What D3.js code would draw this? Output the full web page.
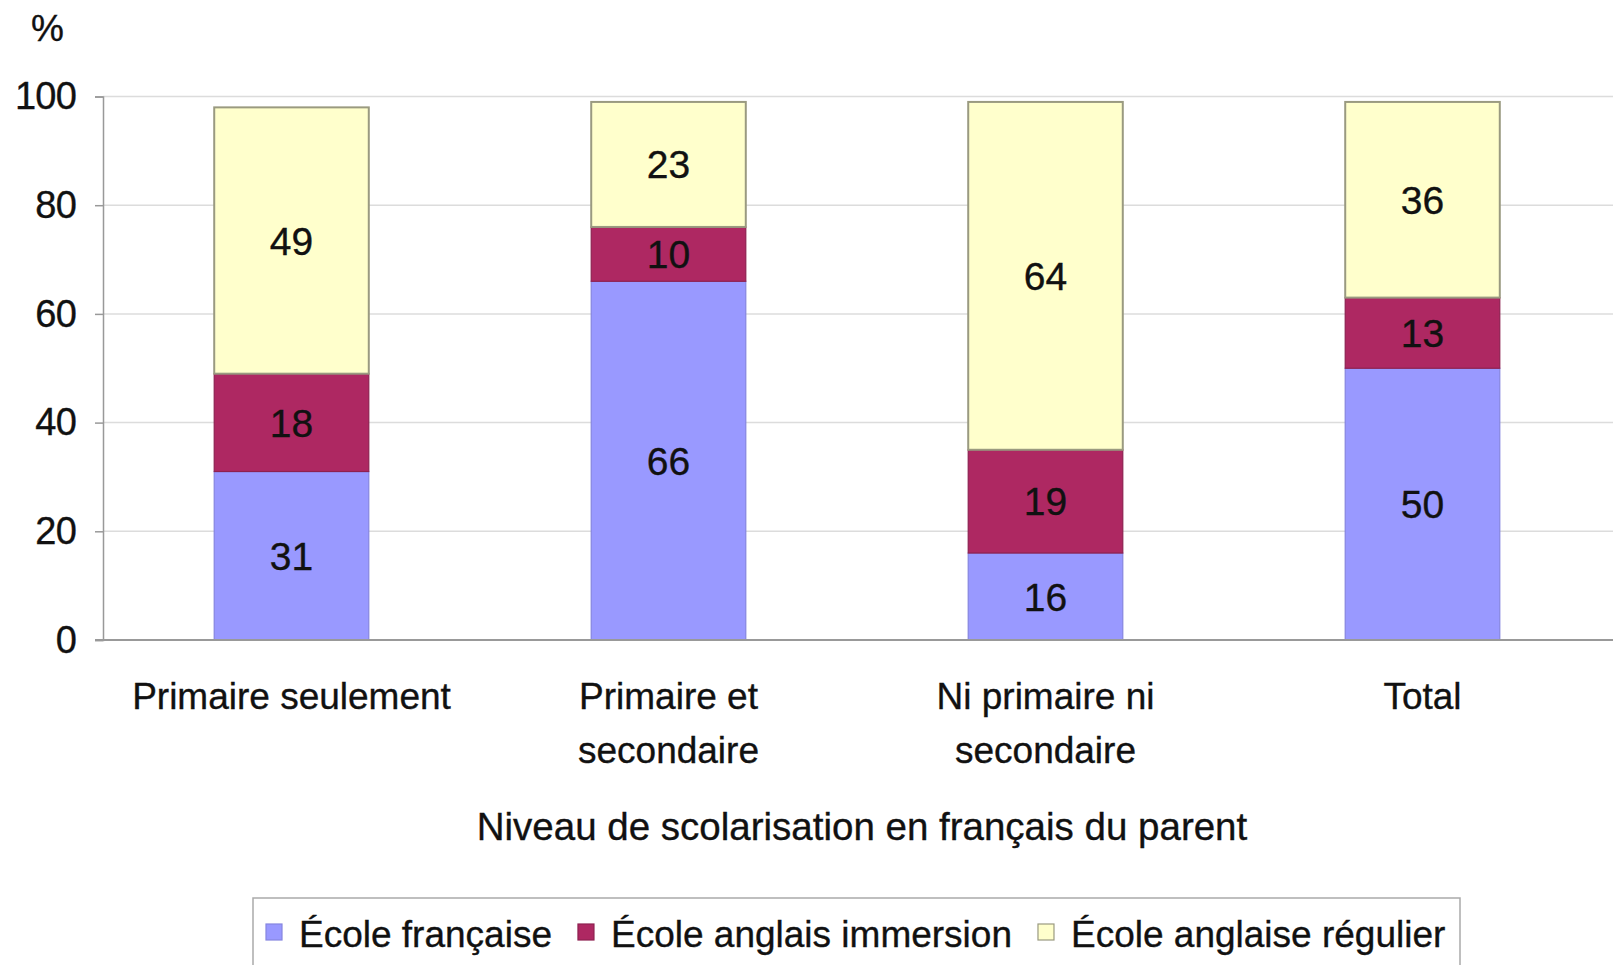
<!DOCTYPE html>
<html>
<head>
<meta charset="utf-8">
<script src="https://cdn.jsdelivr.net/npm/d3@7"></script>
<style>
  html, body { margin: 0; padding: 0; background: #fff; }
  svg { display: block; }
  text { font-family: "Liberation Sans", Arial, Helvetica, sans-serif; fill: #111; stroke: #111; stroke-width: 0.35px; }
</style>
</head>
<body>
<svg id="chart" width="1618" height="965"></svg>
<script>
// ---- data ----
const categories = [["Primaire seulement"], ["Primaire et", "secondaire"], ["Ni primaire ni", "secondaire"], ["Total"]];
const seriesNames = ["École française", "École anglais immersion", "École anglaise régulier"];
const ecoleFrancaise = [31, 66, 16, 50];
const ecoleImmersion = [18, 10, 19, 13];
const ecoleReguliere = [49, 23, 64, 36];
const yTicks = [0, 20, 40, 60, 80, 100];
const yUnit = "%";
const xTitle = "Niveau de scolarisation en français du parent";

(function () {
const colors = ["#9999ff", "#ae2862", "#ffffcc"];
const strokes = ["#8585e0", "#8e2050", "#9a9a80"];

const svg = d3.select("#chart");
const pLeft = 103, pRight = 1613, pTop = 96.5, pBottom = 640;

const keys = categories.map((c, i) => i);
const x = d3.scaleBand().domain(keys).range([pLeft, pLeft + 4 * 377]).paddingInner(0.59).paddingOuter(0.295);
const y = d3.scaleLinear().domain([0, 100]).range([pBottom, pTop]);

// gridlines
svg.append("g").selectAll("line").data(yTicks.filter(d => d > 0)).join("line")
  .attr("x1", pLeft).attr("x2", pRight)
  .attr("y1", d => y(d)).attr("y2", d => y(d))
  .attr("stroke", "#dcdcdc").attr("stroke-width", 1.5);

// stacked data
const rows = keys.map(i => ({ k: i, s0: ecoleFrancaise[i], s1: ecoleImmersion[i], s2: ecoleReguliere[i] }));
const stack = d3.stack().keys(["s0", "s1", "s2"]);
const layers = stack(rows);

const g = svg.append("g");
layers.forEach((layer, li) => {
  g.append("g").selectAll("rect").data(layer).join("rect")
    .attr("x", d => x(d.data.k))
    .attr("width", x.bandwidth())
    .attr("y", d => y(d[1]))
    .attr("height", d => y(d[0]) - y(d[1]))
    .attr("fill", colors[li])
    .attr("stroke", strokes[li])
    .attr("stroke-width", li === 2 ? 2 : 1.2);
});
layers.forEach((layer, li) => {
  g.append("g").selectAll("text").data(layer).join("text")
    .attr("x", d => x(d.data.k) + x.bandwidth() / 2)
    .attr("y", d => (y(d[0]) + y(d[1])) / 2)
    .attr("dy", "0.36em")
    .attr("text-anchor", "middle")
    .attr("font-size", 39)
    .text(d => d[1] - d[0]);
});

// y axis
const yAxis = d3.axisLeft(y).tickValues(yTicks).tickSize(8).tickPadding(19);
const ya = svg.append("g").attr("transform", `translate(${pLeft},0)`).call(yAxis);
ya.select(".domain").attr("stroke", "#999").attr("stroke-width", 1.5);
ya.selectAll(".tick line").attr("stroke", "#999").attr("stroke-width", 1.5);
ya.selectAll(".tick text").attr("font-size", 38).attr("fill", "#111")
  .style("font-family", '"Liberation Sans", Arial, sans-serif').style("letter-spacing", "-0.8px");

// x axis
const xAxis = d3.axisBottom(x).tickSize(0).tickFormat(() => "");
const xa = svg.append("g").attr("transform", `translate(0,${pBottom})`).call(xAxis);
xa.select(".domain").attr("stroke", "#999").attr("stroke-width", 2).attr("d", `M${pLeft - 8},0H${pRight}`);

// category labels
svg.append("g").selectAll("text").data(keys).join("text")
  .attr("x", d => x(d) + x.bandwidth() / 2)
  .attr("y", 709)
  .attr("text-anchor", "middle")
  .attr("font-size", 37)
  .each(function(d) {
    const t = d3.select(this);
    categories[d].forEach((line, i) => {
      t.append("tspan").attr("x", x(d) + x.bandwidth() / 2).attr("dy", i === 0 ? 0 : 54).text(line);
    });
  });

// axis title
svg.append("text").attr("x", (pLeft + 1611) / 2 + 5).attr("y", 840)
  .attr("text-anchor", "middle").attr("font-size", 38.5).text(xTitle);

// unit
svg.append("text").attr("x", 31).attr("y", 41).attr("font-size", 37).text(yUnit);

// legend
const lg = svg.append("g");
lg.append("rect").attr("x", 253).attr("y", 898).attr("width", 1207).attr("height", 90)
  .attr("fill", "#fff").attr("stroke", "#aaa").attr("stroke-width", 1.5);
let lx = 266;
seriesNames.forEach((name, i) => {
  lg.append("rect").attr("x", lx).attr("y", 924).attr("width", 16).attr("height", 16)
    .attr("fill", colors[i]).attr("stroke", strokes[i]).attr("stroke-width", 1.2);
  const t = lg.append("text").attr("x", lx + 33).attr("y", 947).attr("font-size", 37)
    .text(name);
  const w = t.node().getComputedTextLength();
  lx = lx + 33 + w + 26;
});
})();
</script>
</body>
</html>
